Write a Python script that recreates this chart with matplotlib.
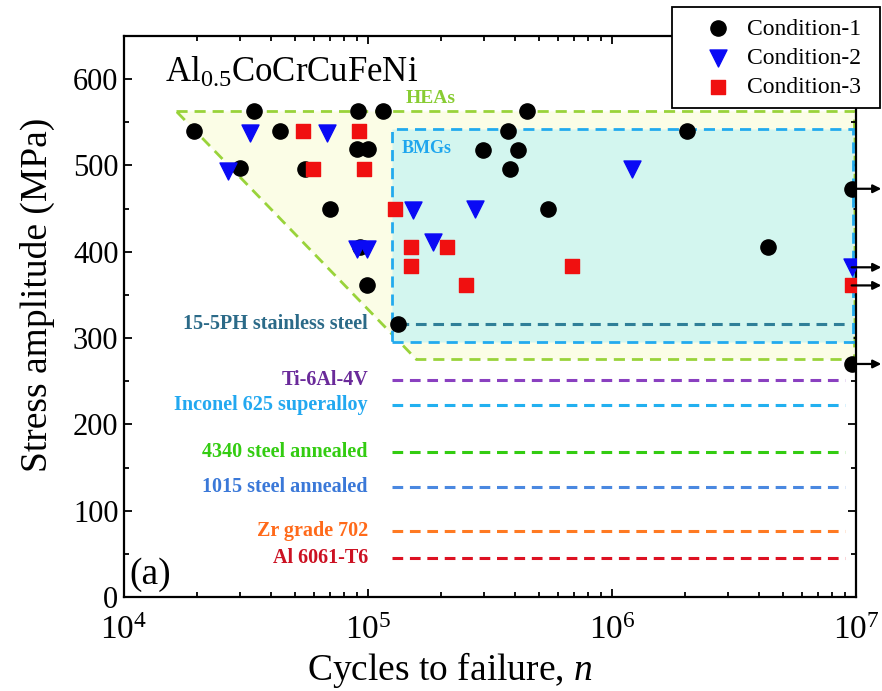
import matplotlib
matplotlib.use("Agg")
import matplotlib.pyplot as plt
from matplotlib.patches import Polygon, Rectangle
from matplotlib.ticker import MultipleLocator, LogLocator, NullFormatter

plt.rcParams['font.family'] = ['Liberation Serif', 'DejaVu Serif']
plt.rcParams['mathtext.fontset'] = 'custom'
plt.rcParams['mathtext.rm'] = 'Liberation Serif'
plt.rcParams['mathtext.it'] = 'Liberation Serif:italic'

# ---- data ----
c1_n = [1.94e4, 3.4e4, 3.0e4, 4.35e4, 5.5e4, 7.0e4, 9.1e4, 1.15e5, 9.0e4, 1.0e5,
        9.3e4, 9.9e4, 1.33e5, 4.5e5, 3.75e5, 2.96e5, 4.12e5, 3.82e5, 5.47e5,
        2.03e6, 4.37e6, 9.6e6, 9.6e6]
c1_s = [540, 563, 497, 540, 496, 450, 563, 563, 519, 519,
        405, 362, 316, 563, 540, 518, 518, 496, 450,
        540, 405, 473, 270]

c2_n = [3.28e4, 6.8e4, 2.67e4, 1.53e5, 2.75e5, 1.85e5, 1.21e6, 9.0e4, 9.9e4, 9.6e6]
c2_s = [538, 538, 494, 448, 450, 411, 496, 403, 403, 382]

c3_n = [5.42e4, 9.2e4, 5.96e4, 9.6e4, 1.29e5, 1.5e5, 2.11e5, 1.5e5, 6.86e5, 2.51e5, 9.6e6]
c3_s = [540, 540, 496, 496, 450, 406, 406, 384, 384, 361, 361]

runout_s = [473, 382, 361, 270]

mat_names = ['15-5PH stainless steel', 'Ti-6Al-4V', 'Inconel 625 superalloy',
             '4340 steel annealed', '1015 steel annealed', 'Zr grade 702', 'Al 6061-T6']
mat_stress = [316, 252, 222, 168, 128, 76, 45]
mat_text_colors = ['#2b6a88', '#6a2a9a', '#22a8f0', '#33cc11', '#3a78d8', '#ff6a1a', '#cc1122']
mat_line_colors = ['#2f7f98', '#8a40c0', '#22b0f0', '#33cc11', '#4a88e0', '#ff7a22', '#dd1122']
mat_start = [1.33e5, 1.25e5, 1.25e5, 1.25e5, 1.25e5, 1.25e5, 1.25e5]
mat_end = 9.0e6

hea_n = [1.63e4, 9.8e6, 9.8e6, 1.58e5]
hea_s = [563, 563, 276, 276]
bmg_n = [1.25e5, 9.7e6]
bmg_s = [295, 542]

# ---- figure ----
W, H = 882, 691
fig = plt.figure(figsize=(8.82, 6.91), dpi=100)
ax = fig.add_axes([124/W, 1-597/H, (856-124)/W, (597-36)/H])
ax.set_xscale('log')
ax.set_xlim(1e4, 1e7)
ax.set_ylim(0, 650)

# HEA region
hea = Polygon(list(zip(hea_n, hea_s)), closed=True, facecolor='#fbfde6',
              edgecolor='#99d33a', linestyle=(0, (4, 2.5)), linewidth=2.0, zorder=1)
ax.add_patch(hea)
# BMG region
bmg = Rectangle((bmg_n[0], bmg_s[0]), bmg_n[1]-bmg_n[0], bmg_s[1]-bmg_s[0],
                facecolor='#d3f6ef', edgecolor='#22aaee', linestyle=(0, (4, 2.5)),
                linewidth=2.0, zorder=2)
ax.add_patch(bmg)

ax.text(1.42e5, 578, 'HEAs', color='#88cc33', fontsize=14, fontweight='bold',
        ha='left', va='center', zorder=3)
ax.text(1.38e5, 520, 'BMGs', color='#1ea6ee', fontsize=13, fontweight='bold',
        ha='left', va='center', zorder=3)

# material lines
for name, s, tc, lc, st in zip(mat_names, mat_stress, mat_text_colors, mat_line_colors, mat_start):
    ax.plot([st, mat_end], [s, s], color=lc, linestyle=(0, (3.5, 2.2)), linewidth=2.2, zorder=3)
    ax.text(1.0e5, s, name, color=tc, fontsize=14.5, fontweight='bold',
            ha='right', va='center', zorder=3)

# runout arrows
for s in runout_s:
    ax.annotate('', xy=(1.27e7, s), xytext=(9.6e6, s),
                arrowprops=dict(arrowstyle='-|>', color='black', lw=1.6,
                                mutation_scale=12, shrinkA=0, shrinkB=0),
                annotation_clip=False, zorder=6)

# points
ax.scatter(c1_n, c1_s, marker='o', s=120, color='black', zorder=5, label='Condition-1')
ax.scatter(c2_n, c2_s, marker='v', s=150, color='#0a0af5', zorder=5, label='Condition-2')
ax.scatter(c3_n, c3_s, marker='s', s=95, color='#f01010', zorder=5, label='Condition-3')

# texts
ax.text(1.47e4, 607, r'Al$_{0.5}$CoCrCuFeNi', fontsize=25, ha='left', va='center', zorder=4)
ax.text(1.05e4, 26, '(a)', fontsize=27, ha='left', va='center', zorder=4)

ax.set_xlabel(r'Cycles to failure, $n$', fontsize=27)
ax.set_ylabel('Stress amplitude (MPa)', fontsize=27)
ax.xaxis.set_label_coords(0.445, -0.095)
ax.yaxis.set_label_coords(-0.094, 0.538)

ax.yaxis.set_major_locator(MultipleLocator(100))
ax.yaxis.set_minor_locator(MultipleLocator(50))
ax.xaxis.set_major_locator(LogLocator(base=10, numticks=10))
ax.xaxis.set_minor_locator(LogLocator(base=10, subs=range(2, 10), numticks=20))
ax.xaxis.set_minor_formatter(NullFormatter())
ax.tick_params(axis='both', which='both', direction='in', top=True, right=True, width=1.3)
ax.tick_params(axis='y', labelsize=22, pad=4)
ax.tick_params(axis='x', labelsize=24, pad=13)
ax.tick_params(which='major', length=6)
ax.tick_params(which='minor', length=3.5)
for sp in ax.spines.values():
    sp.set_linewidth(1.6)

# legend with manually drawn frame
frame = Rectangle((672/W, 1-108/H), (880-672)/W, (108-7)/H, transform=fig.transFigure,
                  facecolor='white', edgecolor='black', linewidth=1.3, zorder=9)
fig.patches.append(frame)
leg = fig.legend(loc='upper left', bbox_to_anchor=(699/W, 1-18/H), fontsize=17,
                 frameon=False, handletextpad=0.45, borderpad=0, borderaxespad=0,
                 labelspacing=0.33, handlelength=1.6)
leg.set_zorder(10)

fig.savefig('out.png', dpi=100)
